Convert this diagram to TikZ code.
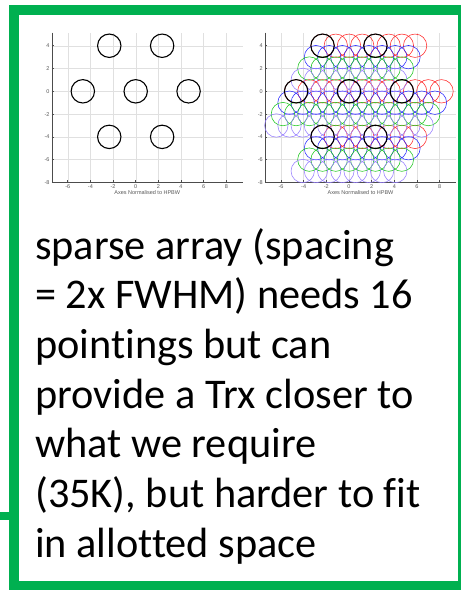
\documentclass[tikz,border=0pt]{standalone}
\usepackage{fontspec}
\setmainfont{Carlito}[Ligatures={NoCommon}]
\newfontfamily\ticksans{Liberation Sans}
\definecolor{frameg}{RGB}{0,176,80}
\definecolor{beamred}{RGB}{255,40,40}
\definecolor{beamblue}{RGB}{40,40,255}
\definecolor{beamgreen}{RGB}{30,200,30}
\definecolor{beampurple}{RGB}{150,125,255}
\tikzset{
  gridline/.style={draw=black!12, line width=0.4pt},
  axisline/.style={draw=black!70, line width=0.5pt},
  ticklab/.style={font=\ticksans\fontsize{5.5}{6}\selectfont, text=black!65, inner sep=0.5pt},
  beam/.style={line width=1.1pt, draw=black},
  subbeam/.style={line width=0.55pt},
  bodytext/.style={anchor=base west, inner sep=0pt, font=\fontsize{42.3}{49.7}\selectfont},
}
\newcommand\myaxes[1]{%
  \foreach \gx in {-6,-4,...,8} \draw[gridline] (\gx,-8) -- (\gx,5.15);
  \foreach \gy in {-6,-4,...,4} \draw[gridline] (-7.4,\gy) -- (9.45,\gy);
  \draw[axisline] (-7.4,5.15) -- (-7.4,-8) -- (9.45,-8);
  \foreach \gx [count=\k] in {-6,-4,...,8} {
    \draw[axisline] (\gx,-8) -- (\gx,-7.82);
    \node[ticklab, anchor=north] (#1x\k) at (\gx,-8.15) {\gx};
  }
  \foreach \gy [count=\k] in {-8,-6,...,4} {
    \draw[axisline] (-7.4,\gy) -- (-7.22,\gy);
    \node[ticklab, anchor=east] (#1y\k) at (-7.55,\gy) {\gy};
  }
  \node[ticklab, anchor=north] (#1lab) at (1.02,-8.62) {Axes Normalised to HPBW};
}
\newcommand\mybeams{%
  \foreach \bx/\by in {-2.3333/4, 2.3333/4, -4.6667/0, 0/0, 4.6667/0, -2.3333/-4, 2.3333/-4}
    \draw[beam] (\bx,\by) circle[radius=11.7pt];
}
\begin{document}
\begin{tikzpicture}[x=1pt,y=-1pt]
\useasboundingbox (0,0) rectangle (461,590);
\fill[white] (0,0) rectangle (461,590);

% left plot
\begin{scope}[shift={(135.7,91.3)}, x=11.33pt, y=11.39pt]
  \myaxes{L}
  \mybeams
\end{scope}

% right plot
\begin{scope}[shift={(349,91.3)}, x=11.33pt, y=11.39pt]
  \myaxes{R}
  \foreach \j/\col in {0/beamred, 1/beamblue, 2/beamgreen, 3/beampurple} {
    \foreach \i in {0,1,2,3} {
      \foreach \bx/\by in {-2.3333/4, 2.3333/4, -4.6667/0, 0/0, 4.6667/0, -2.3333/-4, 2.3333/-4}
        \draw[subbeam, draw=\col] ({\bx+1.16667*\i-0.58333*\j},{\by-\j}) circle[radius=11.7pt];
    }
  }
  \mybeams
\end{scope}

% frame
\node[draw=frameg, line width=10pt, minimum width=448.7pt, minimum height=576pt,
      inner sep=0pt, outer sep=0pt] (frame) at (238.35,298) {};
\coordinate (stubend) at (0,516);
\draw[draw=frameg, line width=8pt] (stubend) -- (stubend -| frame.west);

% text
\node[bodytext] (l1) at (35,259) {sparse array (spacing};
\node[bodytext] (l2) at (35,308.7) {= 2x FWHM) needs 16};
\node[bodytext] (l3) at (35,358.4) {pointings but can};
\node[bodytext] (l4) at (35,408.1) {provide a Trx closer to};
\node[bodytext] (l5) at (35,457.8) {what we require};
\node[bodytext] (l6) at (35,507.5) {(35K), but harder to fit};
\node[bodytext] (l7) at (35,557.2) {in allotted space};
\end{tikzpicture}
\end{document}
